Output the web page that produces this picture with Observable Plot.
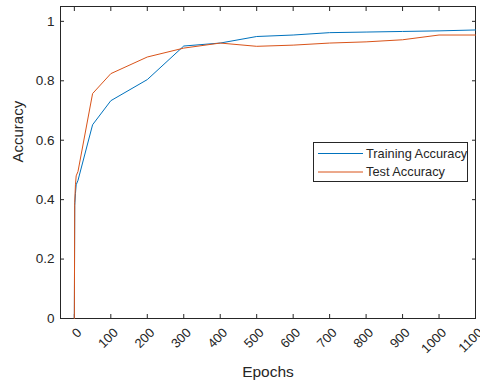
<!DOCTYPE html>
<html><head><meta charset="utf-8">
<script src="https://cdn.jsdelivr.net/npm/d3@7"></script>
<script src="https://cdn.jsdelivr.net/npm/@observablehq/plot@0.6"></script>
<style>
html,body{margin:0;padding:0;background:#fff;overflow:hidden;}
#wrap{position:relative;width:480px;height:390px;overflow:hidden;font-family:"Liberation Sans",Arial,sans-serif;}
#legend{position:absolute;left:313px;top:142px;width:155px;height:40px;background:#fff;border:1px solid #262626;box-sizing:border-box;}
</style></head><body><div id="wrap"></div>
<script>
const epochs   = [0, 1, 3, 5, 10, 50, 100, 200, 300, 400, 500, 600, 700, 800, 900, 1000, 1100];
const trainAcc = [0, 0.38, 0.42, 0.45, 0.465, 0.652, 0.733, 0.804, 0.917, 0.927, 0.949, 0.954, 0.962, 0.964, 0.966, 0.968, 0.971];
const testAcc  = [0, 0.39, 0.45, 0.48, 0.495, 0.757, 0.824, 0.880, 0.910, 0.927, 0.916, 0.920, 0.927, 0.931, 0.938, 0.954, 0.954];
const seriesNames  = ["Training Accuracy", "Test Accuracy"];
const seriesColors = ["#0072BD", "#D95319"];
const xTicks = [0, 100, 200, 300, 400, 500, 600, 700, 800, 900, 1000, 1100];
const yTicks = [0, 0.2, 0.4, 0.6, 0.8, 1];
const xLabel = "Epochs";
const yLabel = "Accuracy";

const fg = "#262626";
const font = "'Liberation Sans', Arial, Helvetica, sans-serif";
const rows = [];
seriesNames.forEach((s, k) => {
  const vals = k === 0 ? trainAcc : testAcc;
  epochs.forEach((e, i) => rows.push({epoch: e, acc: vals[i], series: s}));
});

const chart = Plot.plot({
  width: 480, height: 390,
  marginLeft: 60, marginRight: 5, marginTop: 6, marginBottom: 72,
  style: {fontFamily: font, color: fg, background: "#fff", overflow: "hidden"},
  x: {domain: [-38, 1100]},
  y: {domain: [0, 1.05]},
  color: {domain: seriesNames, range: seriesColors},
  marks: [
    Plot.frame({stroke: fg, strokeWidth: 1}),
    Plot.axisX(xTicks, {anchor: "bottom", tickSize: -4, tickFormat: () => "", label: null}),
    Plot.axisX(xTicks, {anchor: "top", tickSize: -4, tickFormat: () => "", label: null}),
    Plot.axisY(yTicks, {anchor: "left", tickSize: -4, tickFormat: () => "", label: null}),
    Plot.axisY(yTicks, {anchor: "right", tickSize: -4, tickFormat: () => "", label: null}),
    Plot.axisY(yTicks, {anchor: "left", tickSize: 0, tickPadding: 6, tickFormat: d => String(d), fontSize: 13.5, label: null}),
    Plot.text(xTicks, {x: d => d, frameAnchor: "bottom", text: d => String(d), rotate: -45, textAnchor: "end", dx: 8, dy: 15, fontSize: 13, fill: fg}),
    Plot.text([yLabel], {frameAnchor: "left", text: d => d, rotate: -90, dx: -42, fontSize: 15, fill: fg}),
    Plot.text([xLabel], {frameAnchor: "bottom", text: d => d, dy: 58, fontSize: 15.5, fill: fg}),
    Plot.line(rows, {x: "epoch", y: "acc", stroke: "series", z: "series", strokeWidth: 1})
  ]
});
const wrap = document.getElementById("wrap");
wrap.appendChild(chart);

// legend
const leg = document.createElement("div");
leg.id = "legend";
let svg = `<svg width="153" height="38" xmlns="http://www.w3.org/2000/svg" style="display:block">`;
seriesNames.forEach((s, k) => {
  const y = 10.5 + k * 18.5;
  svg += `<line x1="4" x2="49" y1="${y}" y2="${y}" stroke="${seriesColors[k]}" stroke-width="1"/>`;
  svg += `<text x="52" y="${y}" dy="0.35em" font-size="12.8" fill="${fg}" font-family="${font.replace(/'/g, '&quot;')}">${s}</text>`;
});
svg += `</svg>`;
leg.innerHTML = svg;
wrap.appendChild(leg);
</script></body></html>
